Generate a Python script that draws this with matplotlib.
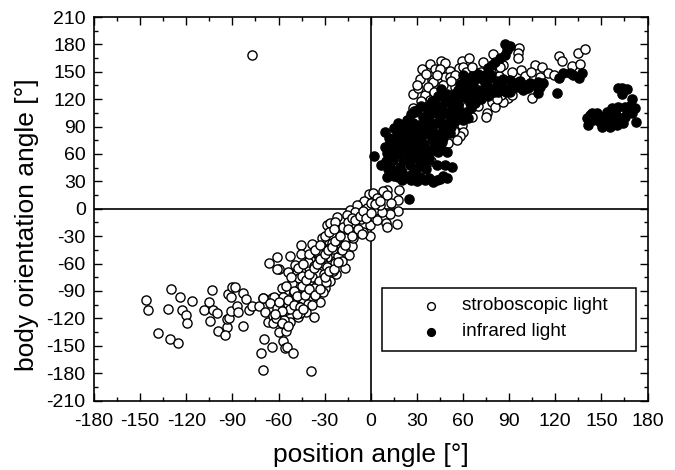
import matplotlib
matplotlib.use("Agg")
import matplotlib.pyplot as plt
from matplotlib.ticker import MultipleLocator

plt.rcParams["font.family"] = ["Liberation Sans", "DejaVu Sans"]
plt.rcParams["axes.unicode_minus"] = False

# stroboscopic light (position angle, body angle)
strobo_x = [-77.2, -146.2, -144.9, -130.1, -124.3, -116.5, -132.1, -122.6, -120.4, -119.5, -138.2, -130.4, -125.6,
            -103.5, -105, -108.2, -102.8, -100.2, -104.3, -99.1, -93.7, -94.8, -93.7, -92.2, -90.9, -92.6, -91.1,
            -90.5, -88.1, -87.2, -86.1, -83.1, -82.9, -80.9, -79.4, -77, -72.5, -69.9, -69.4, -71.2, -70.1, -39.1,
            -64, -68.6, -66.6, -63.8, -63.4, -59.9, -55.1, -57.3, -55.8, -54.5, -50.8, -52.5, -64.4,
            -65.9, -61.2, -60, -61.3, -52.5, -45.1, -45.1, -38, -31.9, -28.6, -26.5, -21.7, -23.2, -13.5, -9.1,
            -7, -2.2, -13, -8, -17.8, -10.2, -14.5, -25.4, -20, -31.9, -14.5, -26, -21, -13.9, -28.6, -35.1,
            -39.5, -30.8, -23.2, -16.7, -22.6, -28.6, -39.9, -49.2, -53.6, -48.2, -34, -38.4, -43.8, -51.4,
            -35.1, -29.7, -57.9, -42.7, -50.3, -33, -38.4, -44.2, -56.8, -62.9, -69.8, -65.3, -60.7, -55.2,
            -47.2, -41.1, -36.4, -31.2, -26.4, -24.4, -18.7, -33.8, -37.2, -42.4, -46.7, -27.8, -30.1, -19.8,
            -16.1, -12.2, -20.9, -24.7, -34.2, -40.7, -36.6, -31.5, -44.6, -49.8, -54.1, -58.3, -61.6, -47.4,
            -41.8, -36.9, -52.7, -56.2, -46, -29.2,
            18.6, 10.8, 7.8, -0.9, 1.7, 4.3, 10.4, 17.9, 13, -4.4, -9.2, -2.2, 2.8, 17.5, 12.5, 7.1, -10.2, -15.7,
            -12.4, -4.8, -0.5, 3.8, 9.9, 16.9, 10.4, -0.5, -9.2, -5.1, -12.4, -17.8, -16.7, -11.3, 5.8, 0.4, -6.6,
            33.1, 38.5, 45.5, 48.3, 41.8, 45, 51.5, 59.1, 63.9, 57.6, 32, 39.6, 48.3, 51.5, 68.9, 73.2, 79.3, 96.4,
            96, 95.5, 86.2, 106.8, 111.2, 97.7, 115, 119.4, 122.2, 124.6, 130.7, 135, 139.6, 136.1, 83.6, 110,
            104.9, 89, 86.2, 78.6, 80.8, 75.4, 74.7, 62.4, 66.7, 27.7, 31, 35.3, 38.5, 34.2, 27.7, 28.1, 44, 40.7,
            50.5, 54.8, 44, 49.8, 52.6, 59.1, 60.2, 58, 50.5, 39,
            -60, -58, -54, -50, -48, -45, -42, -40, -37, -35, -33, -30, -28, -25, -23, -20, -18, -15, -12, -10,
            -7, -5, -3, 0, 3, 6, -55, -52, -47, -44, -40, -36, -33, -30, -27, -24, -50, -46, -43, -40, -36, -33,
            -30, -27, -24, -21, -19, -17, -15, -12, -8, -6, -62, -58, -48, -44, -54, -38,
            36, 43, 55, 60, 30, 37, 41, 33, 47, 52, 62, 66, 72, 78, 84, 92, 100, 104, 42, 37, 85, 82, 92, 70, 66,
            54, 56]
strobo_y = [168.4, -100.3, -110.9, -87.9, -97, -100.7, -110.1, -111.2, -116.4, -125.1, -136.4, -142.6, -146.6,
            -89.3, -102.1, -110.9, -110.9, -113.8, -122.6, -133.5, -129.9, -138.6, -121.1, -119.3, -112, -93.7, -97,
            -85.3, -85.3, -106.5, -113.4, -128.8, -92.6, -99.2, -111.2, -106.5, -106.5, -98.1, -142.6, -158.3,
            -176.6, -177.3, -151.4, -112.7, -124.4, -117.5, -125.5, -135.3, -133.5, -144.8, -152.9, -151.8, -158,
            -124.4, -97.4,
            -59.8, -53.2, -66.3, -65.7, -51.4, -40, -49.5, -38.6, -32.4, -17.8, -16, -8.7, -14.1, -1.4, -4.3,
            4.1, -1.4, -16.7, -15.2, -25, -26.2, -30.6, -37.9, -37.9, -41.5, -41.5, -48.8, -51.7, -50.6, -52.5,
            -48.2, -55.4, -59.8, -59.8, -65.2, -71.4, -63.4, -65.2, -61.6, -68.9, -70.7, -70.7, -75, -81.7, -81.7,
            -83.5, -87.1, -87.1, -90.8, -94.4, -101.7, -99.9, -99.9, -96.2, -97, -98.1, -103.4, -108.2, -110.6,
            -106.3, -104.7, -94.2, -91.5, -78.8, -68.1, -57.2, -78.9, -86.4, -86.1, -76.3, -44.5, -71.9, -44.6,
            -35.8, -22.4, -31.7, -44.1, -47.3, -58.6, -62.7, -53.5, -73.8, -91.4, -103.8, -117.2, -120.1, -118.9,
            -112.6, -118.3, -109.5, -122.1, -113.8, -80.5,
            20.5, 20.5, 19.8, 16.2, 16.9, 11.4, 15, 9.6, 5.9, 8.5, 4.1, 0.5, -1.4, -2.4, -5.7, -3.2, -3.2, -6.8,
            -16, -17.8, -17.8, -12.3, -15.2, -17, -20.3, -29.5, -24, -25, -40.8, -25, -32.4, -32.4, 3.9, 6.2, -10.7,
            152.7, 158.2, 162.2, 160, 152.7, 152.7, 151.2, 162.2, 165.5, 153.8, 142.1, 141, 143.9, 144.6, 148.3,
            160.3, 169.5, 175.7, 170.2, 165.5, 157.4, 157.4, 154.9, 152, 148.3, 146.5, 167.6, 161.4, 156.3, 170.2,
            175.3, 158.5, 145.4, 144.6, 121.3, 121.7, 117.3, 117.3, 111.8, 105.2, 100.1, 112.5, 120.6, 125.7, 131.9,
            124.6, 119.1, 115.4, 110, 107.4, 133.7, 139.2, 131.9, 133.7, 120.9, 101.6, 89.9, 91.7, 83.7, 80, 71.6,
            52.7,
            -102, -112, -100, -90, -96, -85, -78, -72, -65, -60, -55, -50, -45, -42, -35, -30, -20, -15, -10, -12,
            -8, -2, -10, -5, 5, 8, -85, -75, -65, -60, -50, -45, -40, -30, -25, -22, -105, -108, -95, -88, -95, -88,
            -75, -68, -66, -58, -45, -40, -22, -30, -22, -28, -115, -125, -115, -110, -128, -105,
            148, 146, 146, 155, 135, 133, 128, 118, 135, 140, 150, 155, 150, 150, 155, 150, 145, 150, 112, 107, 125,
            120, 125, 112, 100, 85, 75]

# infrared light
infra_x = [9.3, 2.3, 6.7, 25.1, 120.9, 172.3,
           161, 163.6, 166.4, 163.2, 170.1, 171.9,
           140.4, 141.5, 142.6, 143.7, 146.9, 144.8, 149.1, 150.2, 150.2, 153.9, 155.6, 152.3, 156.7, 156.7, 159.9,
           161, 161, 158.8, 164.3, 165.4, 165.4, 166.4, 168.6, 169.7,
           122.6, 125.2, 129.6, 131.7, 135.6, 137.6,
           87.3, 90.6, 88.4, 87.3, 84, 80.8, 78.6, 76.5,
           109, 110, 109, 103.6, 99.2, 99.2, 94.9, 90.6, 90.6, 86.2, 81.9, 77.5, 74.3, 71.1, 66.7, 72.1, 68.9, 63.5,
           60.2, 61.3, 59.1, 64.5, 63.5, 60.2, 55.9, 57, 52.6, 48.3, 46.1, 51.5,
           21.2, 27.7, 34.2, 40.7, 36.4, 42.9, 47.2, 51.5, 16.8, 12.5, 9.3, 19, 25.5, 32, 39.6, 46.1, 49.4, 43.9,
           10.3, 17.9, 24.4, 29.9, 12.5, 10.3, 17.9, 23.4, 19, 25.5, 29.9, 32, 35.3, 40.7, 45, 49.8, 42.9, 48.3,
           52.6, 25.5, 14.7, 21.2,
           15.2, 22.1, 28.6, 34.4, 38.2, 44.7, 31.3, 36.8, 27.1, 22.4, 15.3, 12.8, 18.2, 33.9, 41.2, 30.2, 26.3,
           53.8, 58.3, 49.5, 45.6, 56.4, 67.2, 70.4, 76.1, 82.8, 95.7, 101.3, 37.4, 42.3, 29.1, 23.7, 20.4,
           12, 15, 18, 24, 26, 30, 33, 37, 40, 44, 47, 50, 54, 57, 62, 66, 70, 74, 78, 82, 86, 93, 97, 102, 106, 112,
           33, 38, 45, 49, 53, 55, 58, 62, 65, 68, 72, 76, 28, 23, 18, 14, 10, 14, 20, 27, 16, 21, 26, 30, 35, 38,
           41, 44, 48, 35, 40, 28, 32, 13, 11, 15, 20, 26, 30, 38, 43, 47, 36, 33, 23, 17, 30, 33, 45, 38, 47, 52,
           57, 61, 65, 70, 75, 80, 85, 88, 92]
infra_y = [83.7, 57.8, 47.9, 10.3, 126.4, 95.4,
           131.9, 131.9, 131.1, 125.7, 120.2, 110,
           99, 91.7, 102.7, 105.2, 104.5, 97.2, 95.4, 89.9, 100.9, 106.3, 89.9, 97.2, 110, 99, 91.7,
           111.1, 100.9, 106.3, 93.6, 100.9, 111.1, 106.3, 112.5, 104.5,
           142.8, 148.3, 148.3, 146.5, 142.8, 148.3,
           180.4, 178.2, 173.8, 168.4, 164.7, 161.1, 157.4, 153.8,
           139.2, 133.7, 126.4, 137.4, 135.5, 130, 133.7, 128.2, 141, 131.9, 135.5, 131.9, 137.4, 142.8, 137.4, 128.2,
           122.7, 135.5, 146.5, 128.2, 122.7, 115.4, 99, 97.2, 119.1, 108.1, 113.6, 117.3, 108.1, 99,
           89.9, 93.5, 100.9, 104.5, 89.9, 93.5, 86.2, 82.6, 82.6, 71.6, 68, 73.5, 79, 80.8, 77.1, 73.5, 62.5, 62.5,
           60.7, 60.7, 62.5, 66.2, 46.1, 35.2, 35.2, 35.2, 46.1, 47.9, 44.3, 35.2, 31.5, 29.7, 32.2, 33.3, 47.9, 47.9,
           46.1, 53.4, 53.4, 53.4,
           66.3, 67.8, 58.4, 70.6, 85.4, 81.7, 91.2, 98.6, 72.3, 84.1, 75.8, 56.2, 40.4, 56.7, 67.9, 74.6, 86.8,
           122.4, 136.1, 125.3, 131.6, 112.4, 131.5, 144.7, 142.5, 127.6, 138.8, 132.6, 108.4, 113.9, 106.2, 97.3, 78.1,
           78, 88, 94, 97, 104, 108, 112, 112, 118, 124, 125, 122, 126, 130, 140, 145, 148, 146, 146, 140, 142, 137,
           140, 132, 135, 138,
           92, 96, 100, 106, 104, 96, 100, 106, 110, 116, 120, 124, 84, 88, 84, 70, 52, 42, 40, 38, 60, 64, 70, 75,
           65, 60, 72, 80, 92, 82, 88, 56, 60, 60, 44, 36, 32, 32, 30, 34, 31, 36, 44, 50, 75, 78, 85, 73, 68, 53,
           78, 90, 114, 122, 125, 130, 135, 128, 135, 128, 136]

xticks = list(range(-180, 181, 30))
yticks = list(range(-210, 211, 30))

W, H = 675, 470
fig = plt.figure(figsize=(W / 100, H / 100), dpi=100)
ax = fig.add_axes([94 / W, 1 - 400.5 / H, (647.5 - 94) / W, (400.5 - 17) / H])

ax.axhline(0, color="black", lw=1.2, zorder=1)
ax.axvline(0, color="black", lw=1.2, zorder=1)
ax.plot(strobo_x, strobo_y, "o", mfc="white", mec="black", mew=1.0, ms=6.6, zorder=2, clip_on=False)
ax.plot(infra_x, infra_y, "o", mfc="black", mec="black", mew=1.0, ms=6.6, zorder=3, clip_on=False)

ax.set_xlim(-180, 180)
ax.set_ylim(-210, 210)
ax.set_xticks(xticks)
ax.set_yticks(yticks)
ax.xaxis.set_minor_locator(MultipleLocator(15))
ax.yaxis.set_minor_locator(MultipleLocator(15))
ax.tick_params(which="major", direction="in", length=6, width=1, top=True, right=True, labelsize=14)
ax.tick_params(which="minor", direction="in", length=3, width=1, top=True, right=True)
ax.tick_params(axis="x", which="major", pad=9)
ax.tick_params(axis="y", which="major", pad=6)
for s in ax.spines.values():
    s.set_linewidth(1.2)

ax.set_xlabel("position angle [°]", fontsize=19)
ax.set_ylabel("body orientation angle [°]", fontsize=19)
ax.xaxis.set_label_coords(0.5, -0.11)
ax.yaxis.set_label_coords(-0.1, 0.458)

# legend box, drawn by hand to sit where the original has it
box = plt.Rectangle((382 / W, 1 - 351 / H), 254 / W, 63 / H, transform=fig.transFigure, fc="white", ec="black", lw=1.1, zorder=5)
ax.add_patch(box)
ax.plot([431 / W], [1 - 306 / H], "o", mfc="white", mec="black", mew=1.0, ms=5.6, transform=fig.transFigure, zorder=6, clip_on=False)
ax.plot([431 / W], [1 - 332 / H], "o", mfc="black", mec="black", mew=1.0, ms=5.6, transform=fig.transFigure, zorder=6, clip_on=False)
ax.text(462 / W, 1 - 306 / H, "stroboscopic light", transform=fig.transFigure, fontsize=13.7, va="center", zorder=6)
ax.text(462 / W, 1 - 332 / H, "infrared light", transform=fig.transFigure, fontsize=13.7, va="center", zorder=6)

fig.savefig("out.png", dpi=100)
